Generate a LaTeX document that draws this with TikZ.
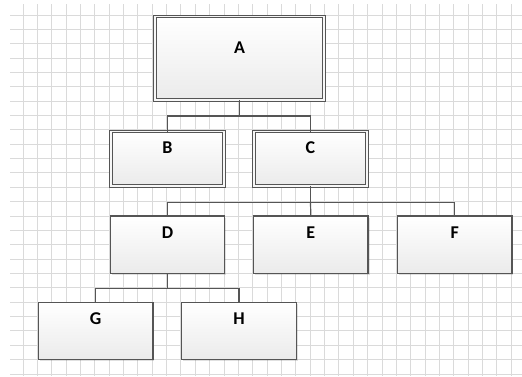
\documentclass[tikz,border=0pt]{standalone}
\usepackage{fontspec}
\setmainfont{Carlito}
\usetikzlibrary{shadows}
\definecolor{gridc}{HTML}{DADADA}
\definecolor{edgec}{HTML}{555555}
\tikzset{
  orgbox/.style={rectangle, inner sep=0pt, outer sep=0pt, draw=edgec, line width=1.2pt,
    top color=white, bottom color=black!8,
    drop shadow={shadow xshift=1.5pt, shadow yshift=-1.5pt, opacity=0.12, fill=black}},
  dblbox/.style={orgbox, line width=1pt, double=white!97!black, double distance=1.6pt},
  boxlabel/.style={anchor=center, font=\fontsize{18}{21}\selectfont\bfseries, text=black},
  conn/.style={draw=edgec, line width=1.2pt}
}
\begin{document}
\begin{tikzpicture}[x=1pt,y=-1pt]
\useasboundingbox (0,0) rectangle (522,376);
\fill[white] (0,0) rectangle (522,376);
% grid
\foreach \k in {0,...,34} {
  \pgfmathsetmacro{\gx}{int(23+14.36*\k)+0.5}
  \draw[gridc, line width=1pt] (\gx,4) -- (\gx,376);
}
\foreach \k in {0,...,25} {
  \pgfmathsetmacro{\gy}{int(15+14.36*\k)+0.5}
  \draw[gridc, line width=1pt] (10,\gy) -- (522,\gy);
}
% nodes
\node[dblbox, minimum width=169pt, minimum height=83.5pt,
  label={[boxlabel, yshift=-31.5pt]north:A}] (A) at (239.5,58.3) {};
\node[dblbox, minimum width=113pt, minimum height=54.6pt,
  label={[boxlabel, yshift=-16.5pt]north:B}] (B) at (167.5,158.8) {};
\node[dblbox, minimum width=113pt, minimum height=54.6pt,
  label={[boxlabel, yshift=-16.5pt]north:C}] (C) at (310.5,158.8) {};
\node[orgbox, minimum width=114.5pt, minimum height=57.3pt,
  label={[boxlabel, yshift=-16.3pt]north:D}] (D) at (167.5,244.7) {};
\node[orgbox, minimum width=114.5pt, minimum height=57.3pt,
  label={[boxlabel, yshift=-16.3pt]north:E}] (E) at (310.8,244.7) {};
\node[orgbox, minimum width=114.5pt, minimum height=57.3pt,
  label={[boxlabel, yshift=-16.3pt]north:F}] (F) at (454.7,244.7) {};
\node[orgbox, minimum width=114.5pt, minimum height=57pt,
  label={[boxlabel, yshift=-16.5pt]north:G}] (G) at (95.7,330.8) {};
\node[orgbox, minimum width=114.5pt, minimum height=57pt,
  label={[boxlabel, yshift=-16.5pt]north:H}] (H) at (239,330.8) {};
% connectors
\coordinate (ab) at (239.5,116);
\coordinate (cb) at (310.5,202.3);
\coordinate (db) at (167.5,288.3);
\draw[conn] (A.south) -- (ab);
\draw[conn] (B.north) |- (ab) -| (C.north);
\draw[conn] (C.south) -- (cb);
\draw[conn] (D.north) |- (cb) -| (F.north);
\draw[conn] (cb) -- (E.north);
\draw[conn] (D.south) -- (db);
\draw[conn] (G.north) |- (db) -| (H.north);
\end{tikzpicture}
\end{document}
